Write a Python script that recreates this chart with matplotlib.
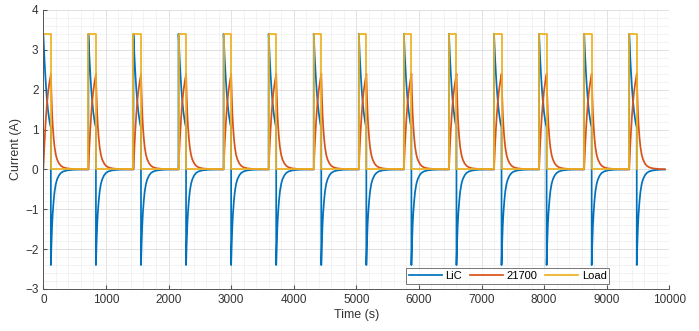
import matplotlib
matplotlib.use('Agg')
import matplotlib.pyplot as plt
import numpy as np

# pulse start times (s)
pulse_starts = [0, 720, 1440, 2160, 2880, 3600, 4320, 5040, 5760, 6480,
                7200, 7920, 8640, 9360]
t_end = 10000

# one cycle, time relative to pulse start (s)
cycle_t = [0, 15, 30, 45, 60, 75, 90, 105, 120,
           120, 125, 130, 140, 150, 165, 180, 200, 220, 250, 280, 320,
           380, 470, 570, 719]
lic_cycle = [3.4, 2.85, 2.4, 2.02, 1.72, 1.48, 1.3, 1.15, 1.05,
             -2.4, -2.1, -1.85, -1.4, -1.1, -0.78, -0.55, -0.36, -0.25,
             -0.15, -0.09, -0.05, -0.025, -0.01, -0.004, -0.001]
cell_cycle = [0.0, 0.55, 1.0, 1.38, 1.68, 1.92, 2.1, 2.25, 2.38,
              2.4, 2.1, 1.85, 1.4, 1.1, 0.78, 0.55, 0.36, 0.25,
              0.15, 0.09, 0.05, 0.025, 0.01, 0.004, 0.001]
load_t = [0, 0, 120, 120, 719]
load_cycle = [0.0, 3.4, 3.4, 0.0, 0.0]


def tile(ts, vals):
    xs, ys = [], []
    for s in pulse_starts:
        for t, v in zip(ts, vals):
            if s + t <= t_end:
                xs.append(s + t)
                ys.append(v)
    return np.array(xs), np.array(ys)


plt.rcParams['font.family'] = ['Liberation Sans', 'DejaVu Sans']

fig = plt.figure(figsize=(6.99, 3.31), dpi=100)
ax = fig.add_axes([0.062, 0.127, 0.8955, 0.843])

c_lic, c_cell, c_load = '#0072BD', '#D95319', '#EDB120'

x, y = tile(cycle_t, lic_cycle)
ax.plot(x, y, color=c_lic, lw=1.25, label='LiC')
x, y = tile(cycle_t, cell_cycle)
ax.plot(x, y, color=c_cell, lw=1.25, label='21700')
x, y = tile(load_t, load_cycle)
ax.plot(x, y, color=c_load, lw=1.25, label='Load')

ax.set_xlim(0, 10000)
ax.set_ylim(-3, 4)
ax.set_xticks(np.arange(0, 10001, 1000))
ax.set_yticks(np.arange(-3, 5, 1))
ax.set_xticks(np.arange(0, 10001, 200), minor=True)
ax.set_yticks(np.arange(-3, 4.01, 0.2), minor=True)
ax.grid(True, which='major', color='#dcdcdc', lw=0.6)
ax.grid(True, which='minor', color='#efefef', lw=0.5)
ax.set_axisbelow(True)

for side in ['top', 'right']:
    ax.spines[side].set_visible(False)
for side in ['left', 'bottom']:
    ax.spines[side].set_color('#555555')
    ax.spines[side].set_linewidth(0.7)
ax.tick_params(which='both', direction='in', colors='#555555', labelcolor='#333333',
               labelsize=8.5)
ax.tick_params(which='major', length=3)
ax.tick_params(which='minor', length=0)

ax.set_xlabel('Time (s)', fontsize=9, color='#333333', labelpad=2)
ax.set_ylabel('Current (A)', fontsize=9, color='#333333', labelpad=2)

leg = ax.legend(loc='lower right', bbox_to_anchor=(0.908, 0.01), ncol=3,
                fontsize=8, frameon=True, fancybox=False, borderpad=0.25,
                handlelength=3.0, columnspacing=0.7, handletextpad=0.3,
                borderaxespad=0.2)
leg.get_frame().set_edgecolor('#555555')
leg.get_frame().set_linewidth(0.7)

fig.savefig('out.png', dpi=100)
